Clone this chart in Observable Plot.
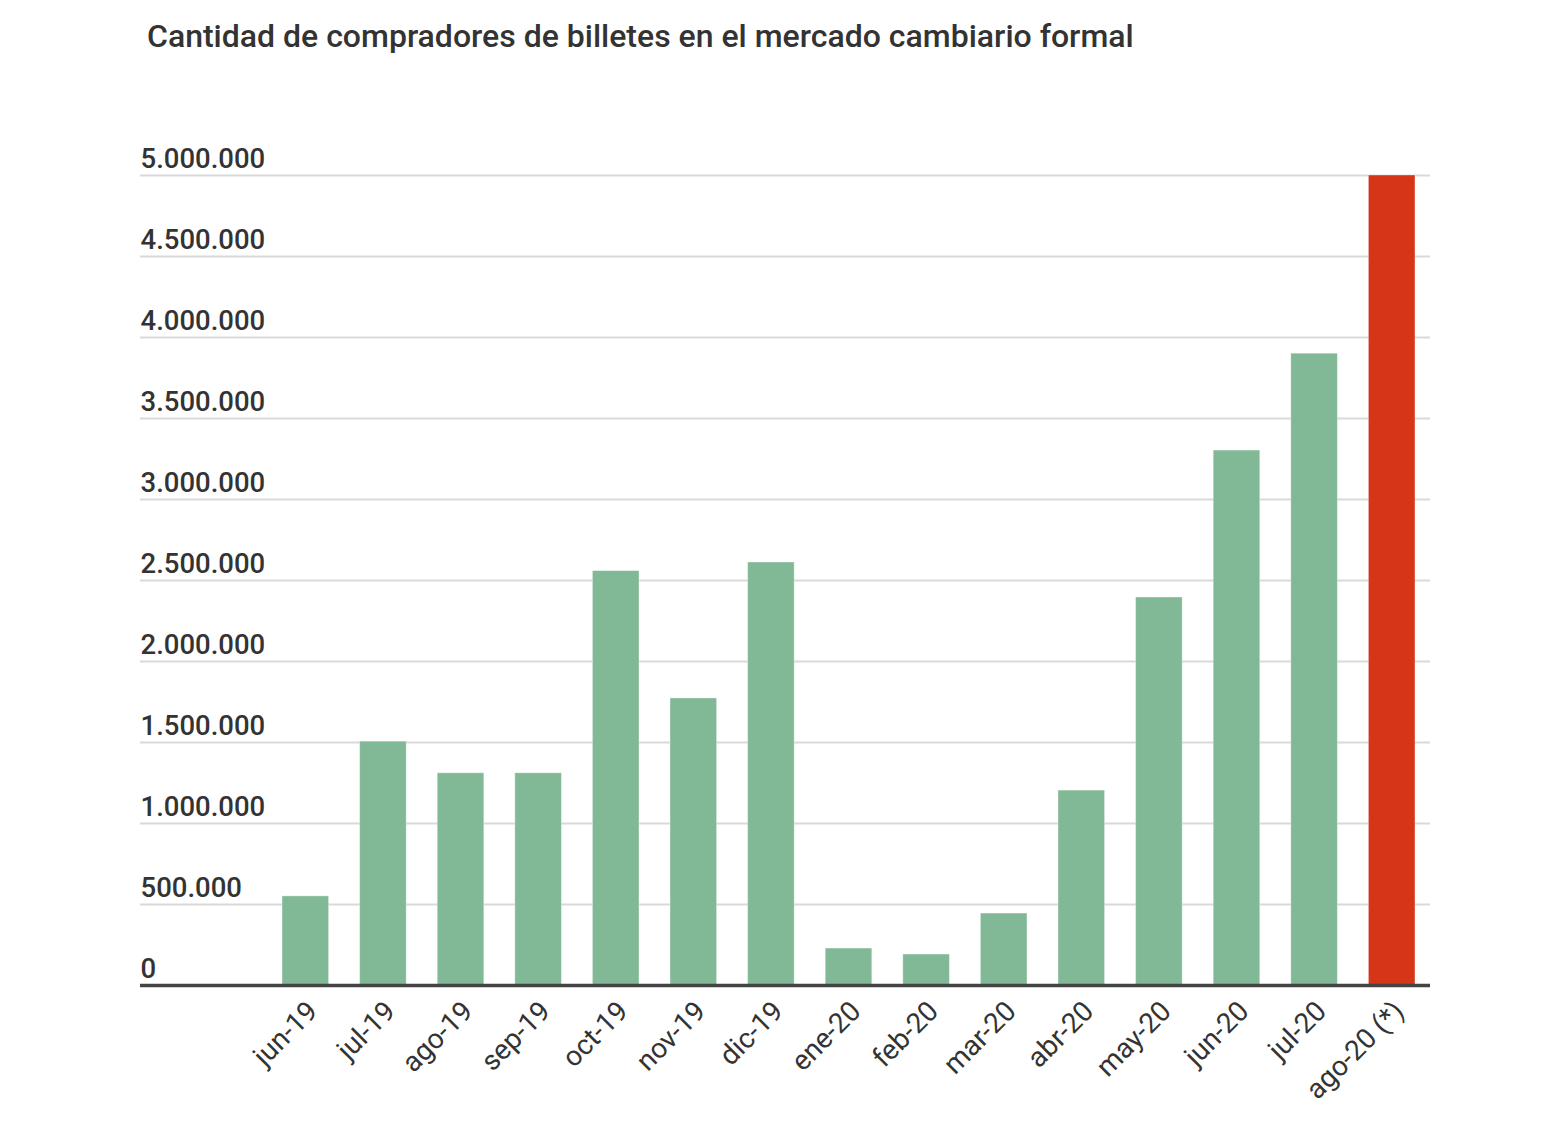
<!DOCTYPE html>
<html>
<head>
<meta charset="utf-8">
<script src="https://cdn.jsdelivr.net/npm/d3@7"></script>
<script src="https://cdn.jsdelivr.net/npm/@observablehq/plot@0.6"></script>
<style>
  body { margin: 0; background: #fff; font-family: Roboto, "Noto Sans", sans-serif; }
  #title { height: 80px; box-sizing: border-box; padding-top: 20px; padding-left: 147px;
           font-size: 32px; line-height: 32px; font-weight: 500; color: #333; white-space: nowrap; }
</style>
</head>
<body>
<div id="title">Cantidad de compradores de billetes en el mercado cambiario formal</div>
<div id="chart"></div>
<script>
const months = ["jun-19","jul-19","ago-19","sep-19","oct-19","nov-19","dic-19","ene-20","feb-20","mar-20","abr-20","may-20","jun-20","jul-20","ago-20 (*)"];
const buyers = [550000, 1505000, 1310000, 1310000, 2558000, 1772000, 2611000, 228000, 191000, 444000, 1203000, 2395000, 3302000, 3900000, 5000000];
const barColors = ["#81b895","#81b895","#81b895","#81b895","#81b895","#81b895","#81b895","#81b895","#81b895","#81b895","#81b895","#81b895","#81b895","#81b895","#d63518"];
const yTicks = [0, 500000, 1000000, 1500000, 2000000, 2500000, 3000000, 3500000, 4000000, 4500000, 5000000];

const data = months.map((m, i) => ({month: m, value: buyers[i], color: barColors[i]}));
const fmt = d => d3.format(",")(d).replace(/,/g, ".");

const chart = Plot.plot({
  width: 1554,
  height: 1046,
  marginTop: 95,
  marginBottom: 141,
  marginLeft: 140,
  marginRight: 124,
  x: {domain: months, range: [251, 1446], padding: 0.4, round: false, axis: null},
  y: {domain: [0, 5000000], axis: null},
  color: {type: "identity"},
  style: {fontFamily: "Roboto, 'Noto Sans', sans-serif", background: "#fff"},
  marks: [
    Plot.gridY(yTicks, {stroke: "#d9d9d9", strokeOpacity: 1, strokeWidth: 2}),
    Plot.barY(data, {x: "month", y: "value", fill: "color", stroke: "#ffffff", strokeOpacity: 0.35, strokeWidth: 1}),
    Plot.ruleY([0], {stroke: "#444", strokeWidth: 3.5}),
    Plot.text(yTicks, {y: d => d, text: fmt, frameAnchor: "left", textAnchor: "start", lineAnchor: "bottom", dy: -8, fontSize: 27.5, fontWeight: 500, fill: "#333"}),
    Plot.text(months, {x: d => d, y: d => 0, text: d => d, rotate: -45, textAnchor: "end", lineAnchor: "middle", dx: 7, dy: 21, fontSize: 28, fill: "#333"})
  ]
});
document.getElementById("chart").appendChild(chart);
</script>
</body>
</html>
